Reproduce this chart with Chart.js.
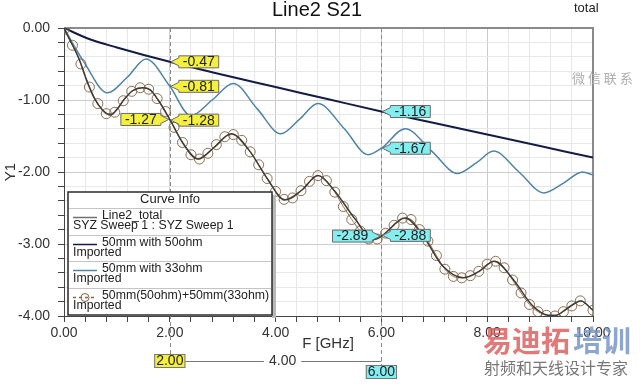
<!DOCTYPE html>
<html>
<head>
<meta charset="utf-8">
<script src="https://cdn.jsdelivr.net/npm/chart.js@4.4.1/dist/chart.umd.min.js"></script>
<style>
  html, body { margin: 0; padding: 0; background: #fff; }
  #wrap { width: 640px; height: 384px; }
</style>
</head>
<body>
<div id="wrap"><canvas id="chart" width="640" height="384"></canvas></div>
<script>
const totalFreq = [0, 0.1, 0.28, 0.42, 0.57, 0.73, 0.88, 1.0, 1.15, 1.3, 1.49, 1.63, 1.78, 2.0, 2.25, 2.53, 2.85, 3.16, 3.5, 3.85, 4.17, 4.5, 4.8, 5.1, 5.5, 5.85, 6.0, 6.45, 6.8, 7.15, 7.55, 7.85, 8.13, 8.5, 8.85, 9.17, 9.3, 9.5, 9.77, 10];
const totalDb = [0, -0.15, -0.42, -0.71, -0.97, -1.14, -1.21, -1.13, -0.98, -0.87, -0.83, -0.86, -1.0, -1.27, -1.6, -1.82, -1.65, -1.47, -1.7, -2.1, -2.39, -2.25, -2.05, -2.25, -2.65, -2.94, -2.89, -2.64, -2.9, -3.3, -3.47, -3.38, -3.24, -3.5, -3.85, -3.99, -3.99, -3.9, -3.79, -3.92];

// 50mm with 50ohm
const freq50 = [0, 0.5, 1, 2, 3, 4, 5, 6, 7, 8, 9, 10];
const db50 = [0, -0.16, -0.27, -0.47, -0.65, -0.82, -0.99, -1.16, -1.32, -1.48, -1.64, -1.8];

// 50mm with 33ohm
const freq33 = [0, 0.4, 0.82, 1.2, 1.55, 2.0, 2.4, 2.8, 3.2, 3.65, 4.1, 4.45, 4.8, 5.3, 5.75, 6.0, 6.45, 6.95, 7.44, 7.8, 8.12, 8.6, 9.07, 9.45, 9.8, 10];
const db33 = [0, -0.5, -0.9, -0.68, -0.43, -0.81, -1.22, -1.0, -0.77, -1.12, -1.47, -1.27, -1.05, -1.4, -1.76, -1.67, -1.4, -1.71, -2.02, -1.87, -1.71, -2.0, -2.29, -2.15, -2.0, -2.04];

// 50mm(50ohm)+50mm(33ohm) imported, one value per circle
const impFreq = [0, 0.16, 0.32, 0.48, 0.64, 0.8, 0.96, 1.12, 1.28, 1.44, 1.6, 1.76, 1.92, 2.08, 2.24, 2.4, 2.56, 2.72, 2.88, 3.04, 3.2, 3.36, 3.52, 3.68, 3.84, 4.0, 4.16, 4.32, 4.48, 4.64, 4.8, 4.96, 5.12, 5.28, 5.44, 5.6, 5.76, 5.92, 6.08, 6.24, 6.4, 6.56, 6.72, 6.88, 7.04, 7.2, 7.36, 7.52, 7.68, 7.84, 8.0, 8.16, 8.32, 8.48, 8.64, 8.8, 8.96, 9.12, 9.28, 9.44, 9.6, 9.76, 10.0];
const impDb = [-0.02, -0.24, -0.5, -0.82, -1.05, -1.19, -1.17, -1.01, -0.88, -0.83, -0.85, -0.98, -1.16, -1.38, -1.59, -1.76, -1.82, -1.74, -1.62, -1.51, -1.48, -1.56, -1.72, -1.9, -2.09, -2.27, -2.38, -2.36, -2.26, -2.13, -2.05, -2.12, -2.28, -2.48, -2.66, -2.82, -2.93, -2.93, -2.85, -2.74, -2.64, -2.66, -2.8, -2.96, -3.16, -3.35, -3.45, -3.47, -3.44, -3.38, -3.28, -3.24, -3.33, -3.5, -3.68, -3.84, -3.94, -3.99, -4.0, -3.94, -3.86, -3.79, -3.92];

// markers m1 at 2 GHz, m2 at 6 GHz
const markerFreq = [2, 6];
const m1Vals = [-0.47, -0.81, -1.27, -1.28];
const m2Vals = [-1.16, -1.67, -2.89, -2.88];
const markerSides = ['r', 'r', 'l', 'r'];

const legendNames = ['Line2_total', '50mm with 50ohm', '50mm with 33ohm', '50mm(50ohm)+50mm(33ohm)'];
const legendSubs = ['SYZ Sweep 1 : SYZ Sweep 1', 'Imported', 'Imported', 'Imported'];

const FONT = '"Liberation Sans", Arial, sans-serif';
const colTotal = '#3c3c3c';
const col50 = '#141c46';
const col33 = '#4f84a6';
const colImp = '#8a6442';

function pts(xs, ys) {
    return xs.map((x, i) => ({ x: x, y: ys[i] }));
}

function isMult(v, m) {
    return Math.abs(v / m - Math.round(v / m)) < 1e-6;
}

// little arrow tags like the HFSS marker labels
function tag(ctx, x, y, text, side, fill) {
    ctx.save();
    ctx.font = '14px ' + FONT;
    const tw = ctx.measureText(text).width;
    const w = tw + 8, h = 12, gap = 9;
    const bx = side === 'r' ? x + gap : x - gap - w;
    const top = y - h / 2;
    ctx.beginPath();
    if (side === 'r') {
        ctx.moveTo(x + 1, y);
        ctx.lineTo(bx, y - 4);
        ctx.lineTo(bx, top);
        ctx.lineTo(bx + w, top);
        ctx.lineTo(bx + w, top + h);
        ctx.lineTo(bx, top + h);
        ctx.lineTo(bx, y + 4);
    } else {
        ctx.moveTo(x - 1, y);
        ctx.lineTo(bx + w, y - 4);
        ctx.lineTo(bx + w, top);
        ctx.lineTo(bx, top);
        ctx.lineTo(bx, top + h);
        ctx.lineTo(bx + w, top + h);
        ctx.lineTo(bx + w, y + 4);
    }
    ctx.closePath();
    ctx.fillStyle = fill;
    ctx.fill();
    ctx.strokeStyle = '#6a6a6a';
    ctx.lineWidth = 1;
    ctx.stroke();
    ctx.fillStyle = '#222';
    ctx.textAlign = 'center';
    ctx.textBaseline = 'middle';
    ctx.fillText(text, bx + w / 2, y + 0.5);
    ctx.restore();
}

function boxText(ctx, cx, cy, text, fill) {
    ctx.save();
    ctx.font = '14px ' + FONT;
    const w = ctx.measureText(text).width + 4, h = 14;
    ctx.fillStyle = fill;
    ctx.fillRect(cx - w / 2, cy - h / 2, w, h);
    ctx.strokeStyle = '#777';
    ctx.lineWidth = 1;
    ctx.strokeRect(cx - w / 2 + 0.5, cy - h / 2 + 0.5, w - 1, h - 1);
    ctx.fillStyle = '#222';
    ctx.textAlign = 'center';
    ctx.textBaseline = 'middle';
    ctx.fillText(text, cx, cy + 0.5);
    ctx.restore();
}

const decor = {
    id: 'decor',
    beforeDatasetsDraw(chart) {
        const ctx = chart.ctx, xs = chart.scales.x, a = chart.chartArea;
        // frame top / right
        ctx.save();
        ctx.strokeStyle = '#8a8a8a';
        ctx.lineWidth = 2;
        ctx.beginPath();
        ctx.moveTo(a.left, a.top);
        ctx.lineTo(a.right, a.top);
        ctx.lineTo(a.right, a.bottom);
        ctx.stroke();
        // marker lines
        ctx.strokeStyle = '#8a8a8a';
        ctx.lineWidth = 1;
        ctx.setLineDash([4, 3]);
        const ends = [354, 365];
        markerFreq.forEach((f, i) => {
            const px = Math.round(xs.getPixelForValue(f)) + 0.5;
            ctx.beginPath();
            ctx.moveTo(px, a.top);
            ctx.lineTo(px, ends[i]);
            ctx.stroke();
        });
        ctx.restore();
    },
    afterDatasetsDraw(chart) {
        const ctx = chart.ctx, xs = chart.scales.x, ys = chart.scales.y, a = chart.chartArea;
        const x1 = xs.getPixelForValue(markerFreq[0]);
        const x2 = xs.getPixelForValue(markerFreq[1]);
        m1Vals.forEach((v, i) => tag(ctx, x1, ys.getPixelForValue(v), v.toFixed(2), markerSides[i], '#f4f03c'));
        m2Vals.forEach((v, i) => tag(ctx, x2, ys.getPixelForValue(v), v.toFixed(2), markerSides[i], '#82eef0'));

        // bottom marker boxes and delta
        ctx.save();
        ctx.strokeStyle = '#777';
        ctx.lineWidth = 1;
        ctx.beginPath();
        ctx.moveTo(x1 + 14, 361.5);
        ctx.lineTo(x2, 361.5);
        ctx.stroke();
        ctx.font = '14px ' + FONT;
        const dtxt = (markerFreq[1] - markerFreq[0]).toFixed(2);
        const dw = ctx.measureText(dtxt).width + 10;
        const dx = (x1 + 14 + x2) / 2;
        ctx.fillStyle = '#fff';
        ctx.fillRect(dx - dw / 2, 354, dw, 14);
        ctx.fillStyle = '#333';
        ctx.textAlign = 'center';
        ctx.textBaseline = 'middle';
        ctx.fillText(dtxt, dx, 361);
        ctx.restore();
        boxText(ctx, x1, 361, markerFreq[0].toFixed(2), '#f4f03c');
        boxText(ctx, x2, 372, markerFreq[1].toFixed(2), '#82eef0');

        // Curve Info box
        const lx = 68, ly = 192, lw = 204, lh = 123;
        ctx.save();
        ctx.fillStyle = '#b8b8b8';
        ctx.fillRect(lx + lw, ly + 3, 4, lh);
        ctx.fillStyle = '#fff';
        ctx.fillRect(lx, ly, lw, lh);
        ctx.strokeStyle = '#2a2a2a';
        ctx.lineWidth = 1.5;
        ctx.strokeRect(lx, ly, lw, lh);
        ctx.fillStyle = '#222';
        ctx.textBaseline = 'middle';
        ctx.textAlign = 'center';
        ctx.font = '13px ' + FONT;
        ctx.fillText('Curve Info', lx + lw / 2, 199);
        const rowTops = [208, 235, 261, 288];
        ctx.strokeStyle = '#c4c4c4';
        ctx.lineWidth = 1;
        rowTops.forEach(t => {
            ctx.beginPath();
            ctx.moveTo(lx + 1, t + 0.5);
            ctx.lineTo(lx + lw - 1, t + 0.5);
            ctx.stroke();
        });
        const sampleCols = ['#707070', col50, col33, colImp];
        ctx.textAlign = 'left';
        ctx.font = '12.3px ' + FONT;
        rowTops.forEach((t, i) => {
            const ny = t + 7.5;
            ctx.strokeStyle = sampleCols[i];
            ctx.lineWidth = 1.5;
            if (i === 3) ctx.setLineDash([3, 3]);
            ctx.beginPath();
            ctx.moveTo(73, ny + 2);
            ctx.lineTo(97, ny + 2);
            ctx.stroke();
            ctx.setLineDash([]);
            if (i === 3) {
                ctx.lineWidth = 1;
                ctx.beginPath();
                ctx.arc(85, ny + 2, 4, 0, Math.PI * 2);
                ctx.stroke();
            }
            ctx.fillStyle = '#222';
            ctx.fillText(legendNames[i], 102, ny);
            ctx.fillText(legendSubs[i], 73, t + 18);
        });
        ctx.restore();
    },
    afterDraw(chart) {
        const ctx = chart.ctx, a = chart.chartArea;
        ctx.save();
        ctx.fillStyle = '#111';
        ctx.textAlign = 'center';
        ctx.textBaseline = 'middle';
        ctx.font = '20px ' + FONT;
        ctx.fillText('Line2 S21', 317, 10);
        ctx.font = '15px ' + FONT;
        ctx.fillStyle = '#333';
        ctx.fillText('F [GHz]', 328, 344);
        ctx.save();
        ctx.translate(11, 172);
        ctx.rotate(-Math.PI / 2);
        ctx.fillText('Y1', 0, 0);
        ctx.restore();
        // corner label and watermarks
        ctx.textAlign = 'left';
        ctx.fillStyle = '#222';
        ctx.font = '13px ' + FONT;
        ctx.fillText('total', 574, 8);
        ctx.fillStyle = '#b0b0b0';
        ctx.font = '13px "Noto Sans CJK SC", sans-serif';
        ctx.fillText('微 信 联 系', 572, 78);
        ctx.font = 'bold 29px "Noto Sans CJK SC", sans-serif';
        ctx.fillStyle = 'rgba(222, 96, 96, 0.85)';
        ctx.fillText('易迪拓', 483, 341);
        ctx.fillStyle = 'rgba(120, 150, 200, 0.85)';
        ctx.fillText('培训', 573, 341);
        ctx.fillStyle = '#777';
        ctx.font = '16px "Noto Sans CJK SC", sans-serif';
        ctx.fillText('射频和天线设计专家', 484, 368);
        ctx.restore();
    }
};

const ctx = document.getElementById('chart').getContext('2d');
new Chart(ctx, {
    type: 'line',
    data: {
        datasets: [
            {
                label: 'Line2_total',
                data: pts(totalFreq, totalDb),
                borderColor: colTotal,
                borderWidth: 1.5,
                pointRadius: 0,
                cubicInterpolationMode: 'monotone'
            },
            {
                label: '50mm(50ohm)+50mm(33ohm)',
                data: pts(impFreq, impDb),
                borderColor: colImp,
                borderWidth: 1,
                pointRadius: 5,
                pointBorderColor: 'rgba(120, 88, 60, 0.85)',
                pointBackgroundColor: 'rgba(255, 240, 220, 0.15)',
                pointBorderWidth: 1,
                cubicInterpolationMode: 'monotone'
            },
            {
                label: '50mm with 33ohm',
                data: pts(freq33, db33),
                borderColor: col33,
                borderWidth: 1.5,
                pointRadius: 0,
                cubicInterpolationMode: 'monotone'
            },
            {
                label: '50mm with 50ohm',
                data: pts(freq50, db50),
                borderColor: col50,
                borderWidth: 2,
                pointRadius: 0,
                cubicInterpolationMode: 'monotone'
            }
        ]
    },
    options: {
        responsive: false,
        animation: false,
        layout: { padding: { top: 28, right: 47, left: 0, bottom: 0 } },
        plugins: {
            legend: { display: false },
            title: { display: false },
            tooltip: { enabled: false }
        },
        scales: {
            x: {
                type: 'linear',
                min: 0,
                max: 10,
                afterFit: (s) => { s.height = 68; },
                ticks: {
                    stepSize: 0.4,
                    autoSkip: false,
                    maxRotation: 0,
                    padding: 3,
                    color: '#333',
                    font: { size: 14, family: FONT },
                    callback: (v) => isMult(v, 2) ? Number(v).toFixed(2) : ''
                },
                grid: {
                    color: (c) => isMult(c.tick.value, 2) ? '#cccccc' : '#e8e8e8',
                    tickColor: '#444',
                    tickLength: 6
                },
                border: { display: true, color: '#444', width: 1 }
            },
            y: {
                type: 'linear',
                min: -4,
                max: 0,
                afterFit: (s) => { s.width = 64; },
                ticks: {
                    stepSize: 0.2,
                    autoSkip: false,
                    padding: 8,
                    color: '#333',
                    font: { size: 14, family: FONT },
                    callback: (v) => isMult(v, 1) ? Math.abs(v) < 1e-9 ? '0.00' : Number(v).toFixed(2) : ''
                },
                grid: {
                    color: (c) => isMult(c.tick.value, 1) ? '#cccccc' : '#e8e8e8',
                    tickColor: '#444',
                    tickLength: 6
                },
                border: { display: true, color: '#444', width: 1 }
            }
        }
    },
    plugins: [decor]
});
</script>
</body>
</html>
